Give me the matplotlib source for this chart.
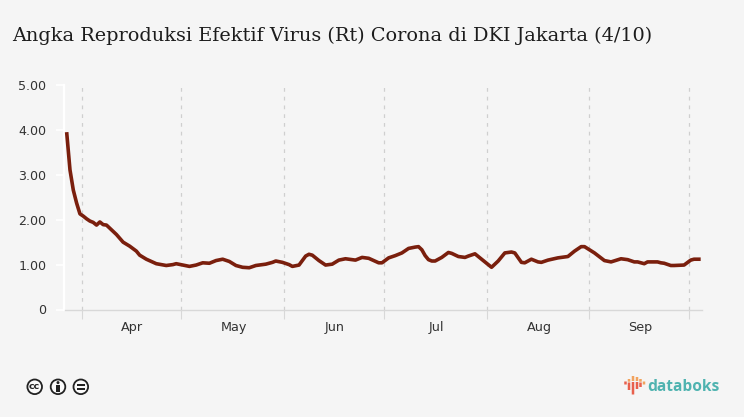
import matplotlib
matplotlib.use("Agg")
import matplotlib.pyplot as plt
from matplotlib.patches import Circle, Rectangle

# Days counted from 1 April
days = [-5,-4,-3,-2,-1,0,1,2,3,4,5,6,7,10,12,14,16,17,19,22,25,27,28,30,32,34,36,38,40,42,44,46,48,50,52,55,57,58,60,62,63,65,67,68,69,71,73,75,77,79,82,84,86,89,90,92,94,96,98,100,101,102,103,104,105,106,108,110,111,113,115,116,118,120,123,125,127,129,130,132,133,135,137,138,140,143,146,148,150,151,154,157,159,162,164,166,167,169,170,173,174,175,177,178,181,183,184,186]
rt = [3.95,3.11,2.66,2.37,2.13,2.08,2.02,1.97,1.94,1.88,1.95,1.89,1.88,1.67,1.50,1.41,1.30,1.21,1.12,1.02,0.98,1.00,1.02,0.99,0.96,0.99,1.04,1.03,1.09,1.12,1.07,0.98,0.94,0.93,0.98,1.01,1.05,1.08,1.05,1.00,0.96,0.99,1.19,1.23,1.21,1.09,0.99,1.01,1.10,1.13,1.10,1.16,1.14,1.04,1.04,1.15,1.20,1.26,1.36,1.39,1.40,1.33,1.20,1.11,1.08,1.08,1.16,1.27,1.25,1.18,1.16,1.19,1.24,1.12,0.94,1.08,1.26,1.28,1.26,1.05,1.04,1.12,1.06,1.05,1.10,1.15,1.18,1.30,1.40,1.40,1.26,1.09,1.06,1.13,1.11,1.06,1.06,1.02,1.06,1.06,1.04,1.03,0.98,0.98,0.99,1.10,1.12,1.12]
month_starts = [0,30,61,91,122,153,183]
month_labels = ["Apr","May","Jun","Jul","Aug","Sep"]
y_ticks = [0,1,2,3,4,5]
y_labels = ["0","1.00","2.00","3.00","4.00","5.00"]
title = "Angka Reproduksi Efektif Virus (Rt) Corona di DKI Jakarta (4/10)"

W,H = 744,417
BG = "#f5f5f5"
fig = plt.figure(figsize=(W/100,H/100),dpi=100,facecolor=BG)
L,R,T,B = 65,702,85,309.5
ax = fig.add_axes([L/W,1-B/H,(R-L)/W,(B-T)/H],facecolor=BG)
ax.plot(days,rt,color="#7a1f0d",lw=2.6,solid_joinstyle="round",solid_capstyle="butt",zorder=3,clip_on=False)
ax.set_xlim(-5.5,186.4)
ax.set_ylim(0,5)
for s in ["top","right"]:
    ax.spines[s].set_visible(False)
ax.spines["left"].set_color("white"); ax.spines["left"].set_linewidth(1.6)
ax.spines["left"].set_position(("outward",1))
ax.spines["bottom"].set_color("#d8d8d8"); ax.spines["bottom"].set_linewidth(1)
edges = [m-0.5 for m in month_starts]
ax.set_xticks(edges)
ax.set_xticklabels([])
ax.tick_params(axis="x",length=6.5,color="#d8d8d8",width=0.8)
ax.set_xticks([(a+b)/2+0.3 for a,b in zip(edges[:-1],edges[1:])],minor=True)
ax.set_xticklabels(month_labels,minor=True,fontsize=9.2,color="#333333")
ax.tick_params(axis="x",which="minor",length=0,pad=8)
ax.set_yticks(y_ticks,y_labels,fontsize=9.1,color="#333333")
ax.tick_params(axis="y",length=5.5,color="white",width=1.2,pad=7)
ax.grid(axis="x",which="major",color="#cfcfcf",ls=(0,(3,4)),lw=0.9)
ax.set_axisbelow(True)

fig.text(12/W,1-36/H,title,fontsize=13.9,family="DejaVu Serif",color="#1c1c1c",va="center",ha="left")

# Overlay in pixel coordinates for licence icons and logo
ov = fig.add_axes([0,0,1,1],facecolor="none")
ov.set_xlim(0,W); ov.set_ylim(H,0); ov.axis("off")
for cx in (34.7,58,80.8):
    ov.add_patch(Circle((cx,386.8),7.3,fc="#fafafa",ec="#222222",lw=1.3))
ov.text(34.7,386.3,"cc",fontsize=6.8,fontweight="bold",ha="center",va="center",color="#222222",family="DejaVu Sans")
ov.add_patch(Circle((58,382.6),1.5,fc="#222222",ec="none"))
ov.add_patch(Rectangle((55.9,384.6),4.2,7,fc="#222222",ec="none"))
ov.add_patch(Rectangle((76.8,384),8,1.6,fc="#222222",ec="none"))
ov.add_patch(Rectangle((76.8,388),8,1.6,fc="#222222",ec="none"))

# x, top, bottom of lower red piece; top, bottom of upper orange piece
for x,rt0,rb,ot,ob in [(625.5,381.5,384.5,None,None),(629,382.5,390,379,381.7),(633,382,394.5,376,381),(637,382,389,377,381),(640.5,382.5,387,379,381.7),(644,None,None,381.5,384.5)]:
    if rt0 is not None:
        ov.add_patch(Rectangle((x-1.25,rt0),2.5,rb-rt0,fc="#e8604c",ec="none",snap=False))
    if ot is not None:
        ov.add_patch(Rectangle((x-1.25,ot),2.5,ob-ot,fc="#f2a35e",ec="none",snap=False))
ov.text(647,391,"databoks",fontsize=11.2,family="Open Sans",fontweight="bold",color="#4fb3b0",ha="left",va="baseline")

fig.savefig("out.png",dpi=100,facecolor=BG)
